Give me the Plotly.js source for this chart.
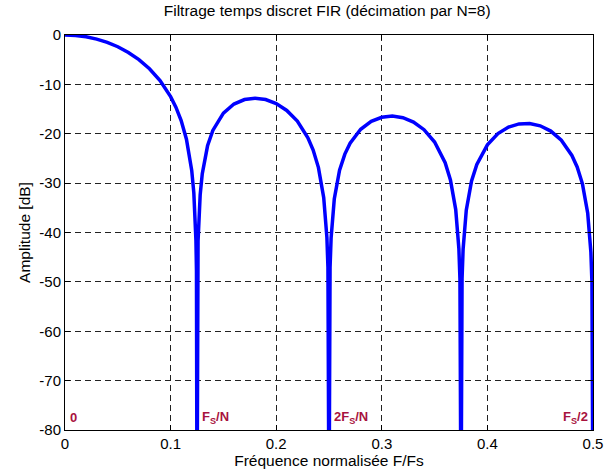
<!DOCTYPE html>
<html><head><meta charset="utf-8">
<script src="https://cdn.plot.ly/plotly-3.0.1.min.js"></script>
<style>html,body{margin:0;padding:0;background:#fff}#plot{width:615px;height:470px}</style>
</head><body><div id="plot"></div>
<script>
// Normalised frequency F/Fs
const freq = [0,0.01,0.02,0.03,0.04,0.05,0.06,0.07,0.08,0.09,0.10,0.105,0.11,0.115,0.12,0.122,0.124,0.1245,0.125,
  0.1255,0.126,0.128,0.13,0.135,0.14,0.15,0.16,0.17,0.18,0.19,0.20,0.21,0.22,0.23,0.235,0.24,0.245,0.248,0.249,0.25,
  0.251,0.252,0.255,0.26,0.265,0.27,0.28,0.29,0.30,0.31,0.32,0.33,0.34,0.35,0.36,0.365,0.37,0.373,0.374,0.375,
  0.376,0.377,0.38,0.385,0.39,0.40,0.41,0.42,0.43,0.44,0.45,0.46,0.47,0.48,0.485,0.49,0.495,0.498,0.499,0.5];
// Amplitude in dB (nulls fall below the -80 dB floor)
const ampDb = [0,-0.09,-0.36,-0.83,-1.49,-2.38,-3.53,-4.99,-6.84,-9.24,-12.48,-14.61,-17.34,-21.11,-27.42,-31.98,-41.65,-47.7,-100,
  -47.77,-41.78,-32.37,-28.08,-22.44,-19.33,-15.82,-13.98,-13.07,-12.80,-13.08,-13.88,-15.28,-17.44,-20.81,-23.30,-26.86,-32.95,-40.97,-47.02,-100,
  -47.07,-41.08,-33.22,-27.40,-24.12,-21.91,-19.09,-17.49,-16.66,-16.43,-16.75,-17.63,-19.18,-21.67,-25.87,-29.34,-35.36,-43.33,-49.36,-100,
  -49.38,-43.37,-35.47,-29.57,-26.21,-22.24,-19.97,-18.65,-18.01,-17.92,-18.39,-19.46,-21.32,-24.39,-26.73,-30.14,-36.10,-44.04,-50.06,-100];

const xTicks = [0,0.1,0.2,0.3,0.4,0.5];
const xTickLabels = ['0','0.1','0.2','0.3','0.4','0.5'];
const yTicks = [0,-10,-20,-30,-40,-50,-60,-70,-80];
const yTickLabels = ['0','-10','-20','-30','-40','-50','-60','-70','-80'];

const markerX = [0, 0.125, 0.25, 0.5];
const markerLabels = ['0','F<sub>S</sub>/N','2F<sub>S</sub>/N','F<sub>S</sub>/2'];
const markerY = -77.4;

const labelColor = '#A8123E';
const annotations = markerX.map((x,i)=>({
  x: x, y: markerY, xref:'x', yref:'y', text: '<b>'+markerLabels[i]+'</b>',
  showarrow:false, xanchor: i===3 ? 'right' : 'left', xshift: i===3 ? -3 : 3,
  font:{family:'Liberation Sans, Arial, sans-serif', size:13, color:labelColor}
}));

const trace = {x: freq, y: ampDb, type:'scatter', mode:'lines',
  line:{color:'#0000FF', width:3.5}, hoverinfo:'skip'};

const axisCommon = {
  showline:true, linecolor:'#000', linewidth:1, mirror:'ticks',
  ticks:'inside', ticklen:5, tickcolor:'#000',
  showgrid:true, gridcolor:'#222', griddash:'6px,4px', gridwidth:1,
  zeroline:false, tickfont:{size:15, color:'#000'}
};

const layout = {
  width:615, height:470,
  margin:{l:65, r:22, t:35, b:40},
  paper_bgcolor:'#fff', plot_bgcolor:'#fff',
  font:{family:'Liberation Sans, Arial, sans-serif', color:'#000', size:15},
  title:{text:'Filtrage temps discret FIR (décimation par N=8)', x:0.532, xanchor:'center', y:0.99, yanchor:'top', font:{size:15.5}},
  xaxis:Object.assign({}, axisCommon, {range:[0,0.5], tickvals:xTicks, ticktext:xTickLabels,
    title:{text:'Fréquence normalisée F/Fs', standoff:1, font:{size:15.5}}}),
  yaxis:Object.assign({}, axisCommon, {range:[-80,0], tickvals:yTicks, ticktext:yTickLabels,
    title:{text:'Amplitude [dB]', standoff:4, font:{size:15.5}}}),
  showlegend:false,
  annotations: annotations
};

Plotly.newPlot('plot',[trace],layout,{staticPlot:true});
</script></body></html>
